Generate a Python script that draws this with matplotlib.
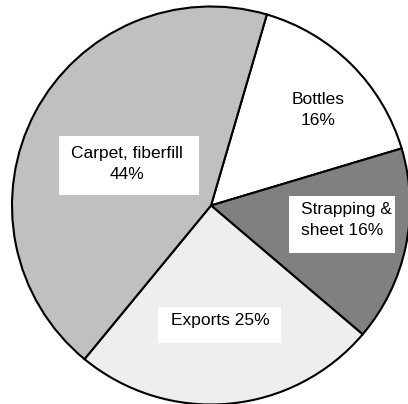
import matplotlib.pyplot as plt
from matplotlib.patches import Rectangle

# data
categories = ["Bottles", "Strapping &\nsheet", "Exports", "Carpet, fiberfill"]
shares = [16, 16, 25, 44]
colors = ["#ffffff", "#808080", "#eeeeee", "#c0c0c0"]

W, H = 408, 404
plt.rcParams["font.family"] = ["Liberation Sans", "DejaVu Sans"]

fig = plt.figure(figsize=(W / 100, H / 100), dpi=100)
# circle: centre (211, 205.5) px, radius 199 px
ax = fig.add_axes([12 / W, (H - 205.5 - 199) / H, 398 / W, 398 / H])

wedges, _ = ax.pie(
    shares,
    colors=colors,
    startangle=73.7,
    counterclock=False,
    wedgeprops=dict(edgecolor="black", linewidth=1.5),
)
for w in wedges:
    w.set_clip_on(False)
ax.set_xlim(-1, 1)
ax.set_ylim(-1, 1)
ax.set_aspect("equal")
ax.axis("off")


def px(x, y):
    return x / W, 1 - y / H


# label boxes (left, top, right, bottom) in pixels, and text anchor
labels = [
    ("Bottles\n16%", None, (318, 110), "center"),
    ("Carpet, fiberfill\n44%", (59, 136, 199, 195), (127, 164), "center"),
    ("Strapping &\nsheet 16%", (289, 196, 395, 253), (301, 220), "left"),
    ("Exports 25%", (158, 307, 281, 343), (220, 321), "center"),
]

for text, box, pos, ha in labels:
    if box is not None:
        x0, y0, x1, y1 = box
        bx, by = px(x0, y1)
        fig.patches.append(Rectangle((bx, by), (x1 - x0) / W, (y1 - y0) / H,
                                     transform=fig.transFigure,
                                     facecolor="white", edgecolor="none"))
    tx, ty = px(*pos)
    fig.text(tx, ty, text, ha=ha, va="center", multialignment=ha,
             fontsize=12.5, linespacing=1.5, color="black")

fig.savefig("out.png", dpi=100)
